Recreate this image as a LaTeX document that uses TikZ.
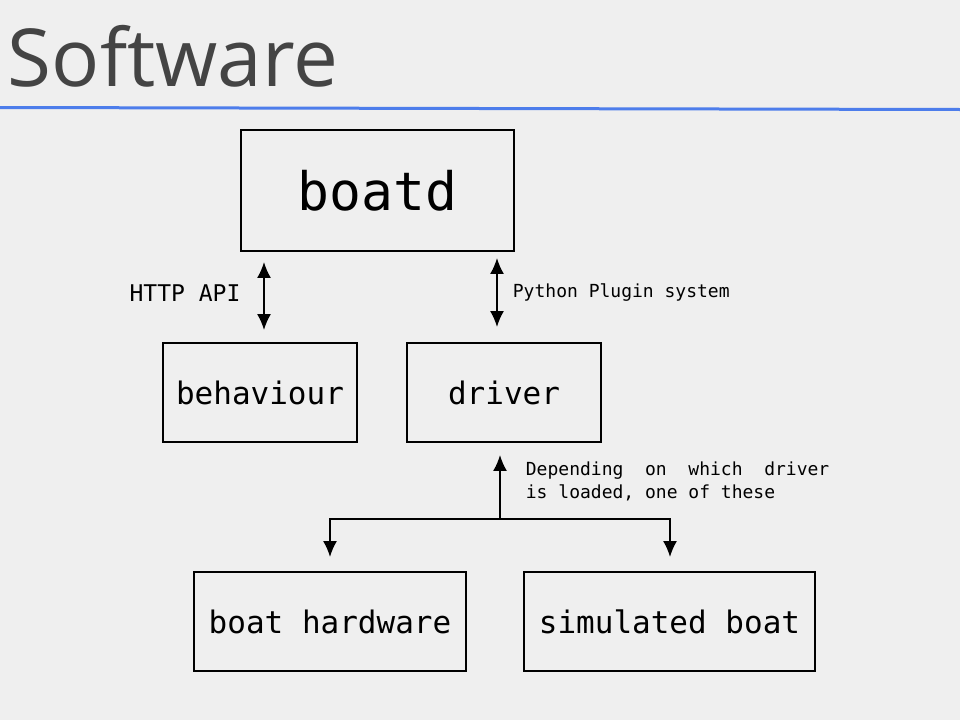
\documentclass[tikz,border=0pt]{standalone}
\usepackage{fontspec}
\setmainfont{DejaVu Sans}
\setsansfont{Open Sans}
\setmonofont{DejaVu Sans Mono}
\usetikzlibrary{arrows.meta,calc}
\definecolor{slidebg}{RGB}{239,239,239}
\definecolor{titlegray}{RGB}{68,68,68}
\definecolor{ruleblue}{RGB}{77,125,235}

\begin{document}
\begin{tikzpicture}[x=1pt,y=-1pt,>={Latex[length=16pt,width=14pt]},line width=1.8pt,
    box node/.style={draw,rectangle,inner sep=0pt,font=\ttfamily\fontsize{31}{37}\selectfont},
    note node/.style={inner sep=0pt,font=\ttfamily\fontsize{18}{23}\selectfont},
    link/.style={<->,line width=2pt}]
                \fill[slidebg] (0,0) rectangle (960,720);
                \useasboundingbox (0,0) rectangle (960,720);
                \node[anchor=base west,inner sep=0pt,text=titlegray,font=\sffamily\fontsize{80}{90}\selectfont] (title) at (7,86) {Software};
                \draw[ruleblue,line width=3pt] (0,107.5) -- (960,109.5);

                \node[box node,minimum width=273pt,minimum height=121pt,font=\ttfamily\fontsize{53}{60}\selectfont] (boatd) at (377.5,190.5) {boatd};
                \node[box node,minimum width=194pt,minimum height=99pt] (behaviour) at (260,392.5) {behaviour};
                \node[box node,minimum width=194pt,minimum height=99pt] (driver) at (504,392.5) {driver};
                \node[box node,minimum width=272pt,minimum height=99pt] (hardware) at (330,621.5) {boat hardware};
                \node[box node,minimum width=291pt,minimum height=99pt] (simulated) at (669.5,621.5) {simulated boat};

                \node[note node,font=\ttfamily\fontsize{23}{28}\selectfont] (http) at (185,293) {HTTP API};
                \node[note node,anchor=west] (plugin) at (512,293) {Python Plugin system};
                \node[note node,anchor=north west,align=left] (depending) at (525,461) {Depending\ \ on\ \ which\ \ driver\\is loaded, one of these};
                \coordinate (fork) at (500,519);

                \draw[link,shorten <=10pt,shorten >=12pt] ([xshift=4pt]boatd.south -| behaviour.north) -- ([xshift=4pt]behaviour.north);
                \draw[link,shorten <=6pt,shorten >=15pt] ([xshift=-7pt]boatd.south -| driver.north) -- ([xshift=-7pt]driver.north);
                \draw[->,line width=2pt,shorten >=12pt] (fork) -- (fork |- driver.south);
                \draw[->,line width=2pt,shorten >=14pt] (fork) -| (hardware.north);
                \draw[->,line width=2pt,shorten >=14pt] (fork) -| ([xshift=0.5pt]simulated.north);
            \end{tikzpicture}
\end{document}
